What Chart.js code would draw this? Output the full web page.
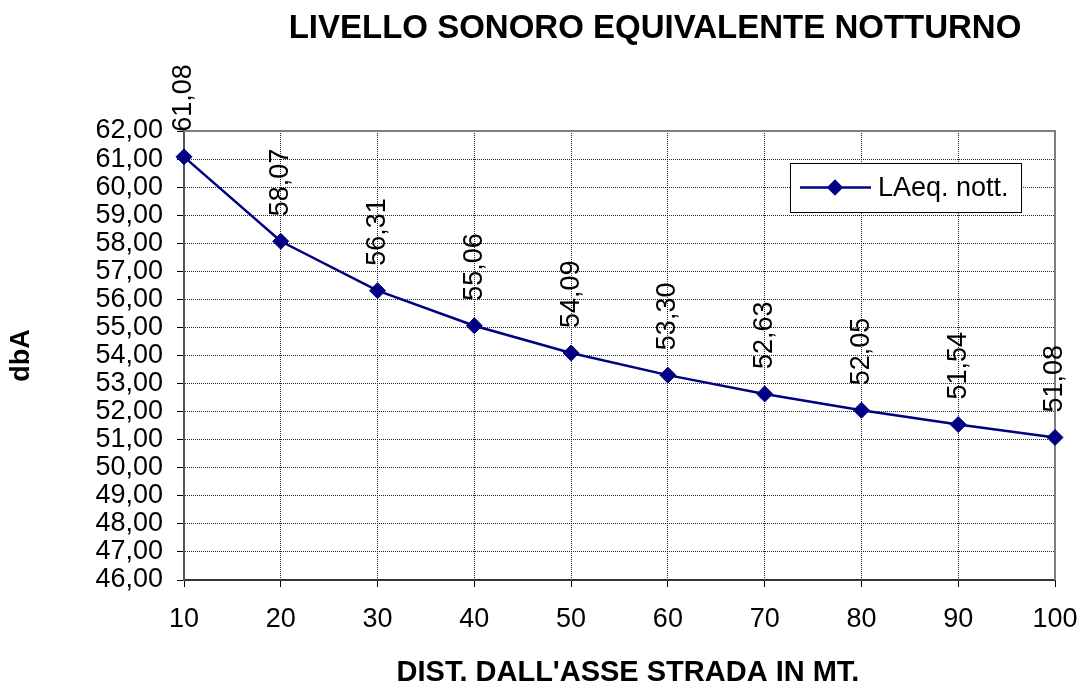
<!DOCTYPE html>
<html>
<head>
<meta charset="utf-8">
<script src="https://cdn.jsdelivr.net/npm/chart.js@4/dist/chart.umd.min.js"></script>
<style>
  html, body { margin: 0; padding: 0; background: #fff; }
  canvas { display: block; }
</style>
</head>
<body>
<canvas id="c" width="1079" height="684"></canvas>
<script>
// Distances from the road axis (m) and night-time equivalent level (dBA)
const distances = ['10', '20', '30', '40', '50', '60', '70', '80', '90', '100'];
const laeqNight = [61.08, 58.07, 56.31, 55.06, 54.09, 53.30, 52.63, 52.05, 51.54, 51.08];
const yMin = 46;
const yMax = 62;
const yStep = 1;

const chartTitle = 'LIVELLO SONORO EQUIVALENTE NOTTURNO';
const seriesLabel = 'LAeq. nott.';
const xAxisTitle = "DIST. DALL'ASSE STRADA IN MT.";
const yAxisTitle = 'dbA';

const FONT = '"Liberation Sans", Arial, Helvetica, sans-serif';
const NAVY = '#000080';
const fmt = v => v.toFixed(2).replace('.', ',');

// Grey frame on the top and right edges of the plot area
const plotFrame = {
  id: 'plotFrame',
  beforeDatasetsDraw(chart) {
    const { ctx, chartArea: a } = chart;
    ctx.save();
    ctx.strokeStyle = '#808080';
    ctx.lineWidth = 2;
    ctx.beginPath();
    ctx.moveTo(a.left, a.top);
    ctx.lineTo(a.right, a.top);
    ctx.lineTo(a.right, a.bottom);
    ctx.stroke();
    ctx.restore();
  }
};

// Vertical value labels above each point
const valueLabels = {
  id: 'valueLabels',
  afterDatasetsDraw(chart) {
    const { ctx } = chart;
    const ds = chart.data.datasets[0];
    const meta = chart.getDatasetMeta(0);
    ctx.save();
    ctx.fillStyle = '#000';
    ctx.font = '27px ' + FONT;
    ctx.textAlign = 'left';
    ctx.textBaseline = 'middle';
    meta.data.forEach((pt, i) => {
      ctx.save();
      ctx.translate(pt.x, pt.y - 25);
      ctx.rotate(-Math.PI / 2);
      ctx.fillText(fmt(ds.data[i]), 0, 0);
      ctx.restore();
    });
    ctx.restore();
  }
};

// Titles and the boxed legend inside the plot area
const titlesAndLegend = {
  id: 'titlesAndLegend',
  afterDraw(chart) {
    const { ctx, chartArea: a } = chart;
    const ds = chart.data.datasets[0];
    ctx.save();
    ctx.fillStyle = '#000';
    ctx.textAlign = 'center';
    ctx.textBaseline = 'middle';
    ctx.font = 'bold 33px ' + FONT;
    ctx.fillText(chartTitle, 655, 29);
    ctx.font = 'bold 29px ' + FONT;
    ctx.fillText(xAxisTitle, 628, 673);

    const bx = a.right - 265, by = a.top + 32, bw = 231, bh = 49;
    ctx.fillStyle = '#fff';
    ctx.fillRect(bx, by, bw, bh);
    ctx.strokeStyle = '#000';
    ctx.lineWidth = 1;
    ctx.strokeRect(bx + 0.5, by + 0.5, bw, bh);

    const ly = by + bh / 2;
    ctx.strokeStyle = ds.borderColor;
    ctx.lineWidth = ds.borderWidth;
    ctx.beginPath();
    ctx.moveTo(bx + 10, ly);
    ctx.lineTo(bx + 81, ly);
    ctx.stroke();
    ctx.fillStyle = ds.pointBackgroundColor;
    Chart.helpers.drawPoint(ctx, { pointStyle: 'rectRot', radius: ds.pointRadius, borderWidth: 0 }, bx + 45, ly);
    ctx.fill();

    ctx.fillStyle = '#000';
    ctx.font = '27px ' + FONT;
    ctx.textAlign = 'left';
    ctx.fillText(ds.label, bx + 88, ly + 1);
    ctx.restore();
  }
};

new Chart(document.getElementById('c'), {
  type: 'line',
  data: {
    labels: distances,
    datasets: [{
      label: seriesLabel,
      data: laeqNight,
      borderColor: NAVY,
      backgroundColor: NAVY,
      borderWidth: 2.5,
      tension: 0,
      pointStyle: 'rectRot',
      pointRadius: 8,
      pointBackgroundColor: NAVY,
      pointBorderColor: NAVY,
      pointBorderWidth: 1,
      fill: false
    }]
  },
  options: {
    responsive: false,
    animation: false,
    devicePixelRatio: 1,
    layout: { padding: { left: 0, right: 24, top: 131, bottom: 0 } },
    plugins: {
      legend: { display: false },
      title: { display: false },
      tooltip: { enabled: false }
    },
    scales: {
      x: {
        type: 'category',
        offset: false,
        afterFit(scale) {
          scale.height = 104;
          scale.paddingLeft = 0;
          scale.paddingRight = 0;
        },
        grid: {
          color: '#222',
          lineWidth: 1,
          drawTicks: true,
          tickLength: 7,
          tickColor: '#000',
          tickWidth: 1,
          tickBorderDash: []
        },
        border: { display: true, color: '#333', width: 2, dash: [1, 1] },
        ticks: {
          color: '#000',
          font: { family: FONT, size: 27 },
          padding: 16,
          maxRotation: 0,
          autoSkip: false
        },
        title: { display: false }
      },
      y: {
        min: yMin,
        max: yMax,
        afterFit(scale) {
          scale.width = 184;
          scale.paddingTop = 0;
          scale.paddingBottom = 0;
        },
        grid: {
          color: '#222',
          lineWidth: 1,
          drawTicks: true,
          tickLength: 7,
          tickColor: '#000',
          tickWidth: 1,
          tickBorderDash: []
        },
        border: { display: true, color: '#555', width: 2, dash: [1, 1] },
        ticks: {
          stepSize: yStep,
          autoSkip: false,
          color: '#000',
          font: { family: FONT, size: 27 },
          padding: 14,
          callback: v => fmt(v)
        },
        title: {
          display: true,
          text: yAxisTitle,
          color: '#000',
          font: { family: FONT, size: 27, weight: 'bold' },
          padding: { top: 5, bottom: 0 }
        }
      }
    }
  },
  plugins: [plotFrame, valueLabels, titlesAndLegend]
});
</script>
</body>
</html>
